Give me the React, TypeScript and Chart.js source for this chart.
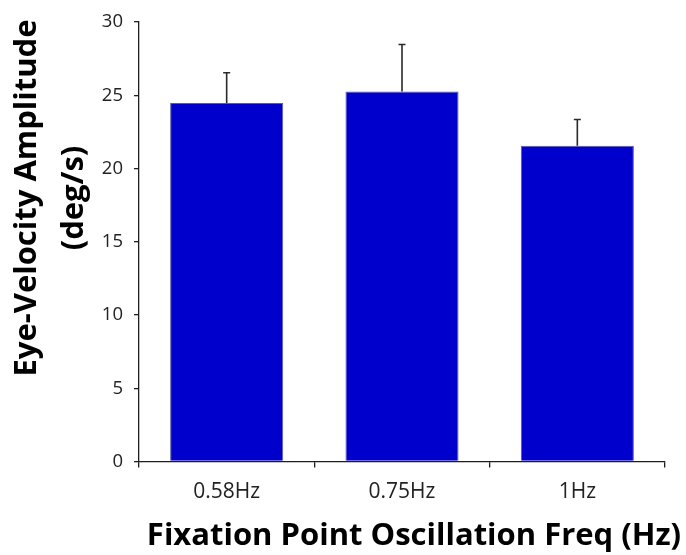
import React, { useEffect, useRef } from "react";
import { Chart, registerables } from "chart.js";

Chart.register(...registerables);

const categories = ["0.58Hz", "0.75Hz", "1Hz"];
const amplitude = [24.47, 25.26, 21.55];
const errorUp = [2.07, 3.21, 1.8];
const yMin = 0;
const yMax = 30;
const yStep = 5;
const xTitle = "Fixation Point Oscillation Freq (Hz)";
const yTitleLines = ["Eye-Velocity Amplitude", "(deg/s)"];

const FONT = "'Open Sans', 'DejaVu Sans', sans-serif";
const AXIS = "#1e1e1e";

const errorBarPlugin = {
  id: "errorBars",
  afterDatasetsDraw(chart: any) {
    const ctx = chart.ctx;
    const meta = chart.getDatasetMeta(0);
    const yScale = chart.scales.y;
    ctx.save();
    ctx.strokeStyle = "#2a2a2a";
    ctx.lineWidth = 1.6;
    meta.data.forEach((bar: any, i: number) => {
      const x = bar.x;
      const yBase = bar.y;
      const yTop = yScale.getPixelForValue(amplitude[i] + errorUp[i]);
      ctx.beginPath();
      ctx.moveTo(x, yBase);
      ctx.lineTo(x, yTop);
      ctx.moveTo(x - 3.5, yTop);
      ctx.lineTo(x + 3.5, yTop);
      ctx.stroke();
    });
    ctx.restore();
  },
};

const titlePlugin = {
  id: "customTitles",
  afterDraw(chart: any) {
    const ctx = chart.ctx;
    const area = chart.chartArea;
    ctx.save();
    ctx.fillStyle = "#000";
    ctx.font = `bold 31px ${FONT}`;
    ctx.textAlign = "center";
    ctx.textBaseline = "alphabetic";
    ctx.fillText(xTitle, (area.left + area.right) / 2 + 12, 545);

    const cy = 198;
    const baselines = [36, 83];
    yTitleLines.forEach((line, i) => {
      ctx.save();
      ctx.translate(baselines[i], cy);
      ctx.rotate(-Math.PI / 2);
      ctx.fillText(line, 0, 0);
      ctx.restore();
    });
    ctx.restore();
  },
};

export default function App() {
  const canvasRef = useRef<HTMLCanvasElement | null>(null);

  useEffect(() => {
    document.body.style.margin = "0";
    const canvas = canvasRef.current;
    if (!canvas) return;
    const chart = new Chart(canvas, {
      type: "bar",
      data: {
        labels: categories,
        datasets: [
          {
            data: amplitude,
            backgroundColor: "#0000cc",
            borderColor: "#5a5aa8",
            borderWidth: 1,
            barPercentage: 0.645,
            categoryPercentage: 1,
          },
        ],
      },
      options: {
        animation: false,
        responsive: false,
        devicePixelRatio: 1,
        layout: { padding: { top: 16, right: 21, left: 0, bottom: 0 } },
        plugins: {
          legend: { display: false },
          tooltip: { enabled: false },
          title: { display: false },
        },
        scales: {
          x: {
            grid: {
              display: true,
              drawOnChartArea: false,
              drawTicks: true,
              tickLength: 6,
              color: AXIS,
              lineWidth: 1.3,
              offset: true,
            },
            border: { display: true, color: AXIS, width: 1.3 },
            ticks: {
              color: "#222",
              padding: 12,
              font: { family: FONT, size: 21 },
            },
            afterFit(scale: any) {
              scale.height = 93.5;
            },
          },
          y: {
            min: yMin,
            max: yMax,
            grid: {
              display: true,
              drawOnChartArea: false,
              drawTicks: true,
              tickLength: 5,
              color: AXIS,
              lineWidth: 1.3,
            },
            border: { display: true, color: AXIS, width: 1.3 },
            ticks: {
              stepSize: yStep,
              color: "#222",
              padding: 11,
              font: { family: FONT, size: 18.5 },
            },
            afterFit(scale: any) {
              scale.width = 139;
            },
          },
        },
      },
      plugins: [errorBarPlugin, titlePlugin],
    });
    return () => chart.destroy();
  }, []);

  return (
    <div style={{ position: "absolute", left: 0, top: 0, width: 686, height: 555, background: "#fff" }}>
      <canvas ref={canvasRef} width={686} height={555} />
    </div>
  );
}
